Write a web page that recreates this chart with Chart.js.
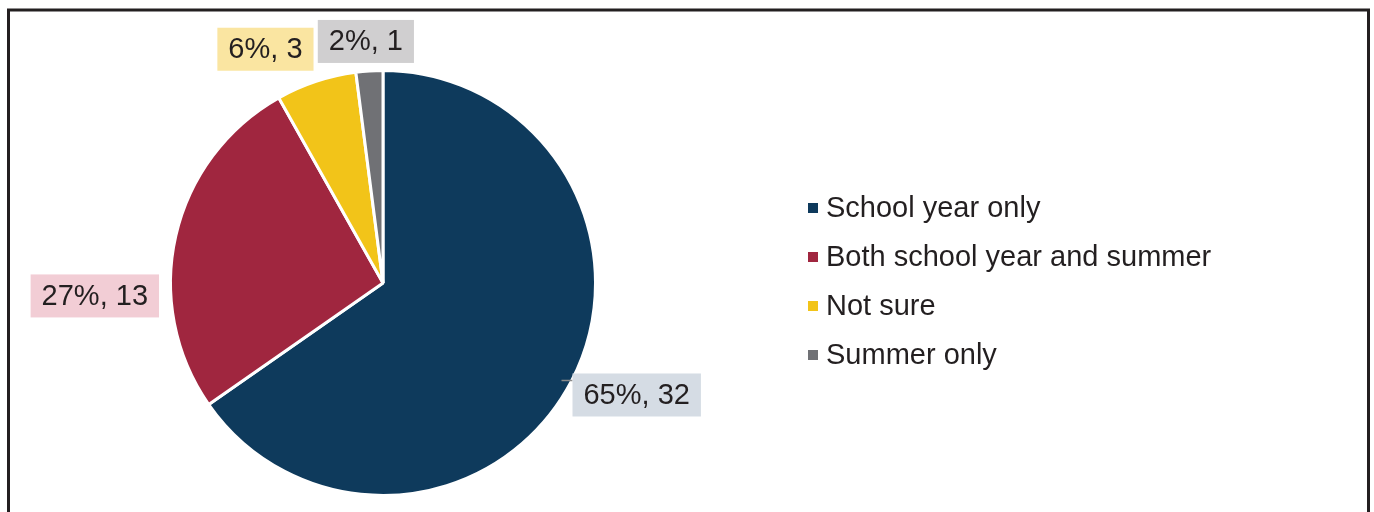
<!DOCTYPE html>
<html>
<head>
<meta charset="utf-8">
<script src="https://cdn.jsdelivr.net/npm/chart.js@4"></script>
<style>
  html, body { margin: 0; padding: 0; background: #fff; }
  #wrap { width: 1374px; height: 512px; position: relative; }
</style>
</head>
<body>
<div id="wrap"><canvas id="myChart" width="1374" height="512"></canvas></div>
<script>
// chart data
let labels = ["School year only", "Both school year and summer", "Not sure", "Summer only"];
let counts = [32, 13, 3, 1];

let sliceColors = ['#0e3a5c', '#a0263f', '#f2c419', '#707175'];
let labelBoxColors = ['#d5dce4', '#f2cdd5', '#fae5a1', '#d0cfd0'];
// small nudges for where the value labels sit (pixels)
let labelNudge = [[-6, 10], [-9, 62], [0, -3], [-3, 0]];

const FONT = '29px "Liberation Sans", Arial, sans-serif';

// frame around the whole chart
const framePlugin = {
  id: 'frame',
  afterDraw(chart) {
    const ctx = chart.ctx;
    ctx.save();
    ctx.strokeStyle = '#231f20';
    ctx.lineWidth = 3;
    ctx.strokeRect(8.5, 10, 1360, 600);
    ctx.restore();
  }
};

// value labels "65%, 32" in tinted boxes
const valueLabels = {
  id: 'valueLabels',
  afterDatasetsDraw(chart) {
    const ctx = chart.ctx;
    const meta = chart.getDatasetMeta(0);
    const vals = chart.data.datasets[0].data;
    const total = vals.reduce((a, b) => a + b, 0);
    ctx.save();
    ctx.font = FONT;
    ctx.textBaseline = 'middle';
    meta.data.forEach((arc, i) => {
      const mid = (arc.startAngle + arc.endAngle) / 2;
      const dx = Math.cos(mid), dy = Math.sin(mid);
      const r = arc.outerRadius + 8;
      let ax = arc.x + dx * r + labelNudge[i][0];
      let ay = arc.y + dy * r + labelNudge[i][1];
      const txt = Math.round(vals[i] / total * 100) + '%, ' + vals[i];
      const tw = ctx.measureText(txt).width;
      const bw = tw + 22, bh = 43;
      let bx, by;
      if (Math.abs(dx) < 0.2) bx = ax - bw / 2;
      else if (dx > 0) bx = ax;
      else bx = ax - bw;
      if (dy < -0.5) by = ay - bh;
      else if (dy > 0.5) by = ay;
      else by = ay - bh / 2;
      if (i === 0) {
        // short leader line
        ctx.strokeStyle = '#8a8a8a';
        ctx.lineWidth = 1.5;
        ctx.beginPath();
        ctx.moveTo(bx - 11, by + 7);
        ctx.lineTo(bx, by + 7);
        ctx.stroke();
      }
      ctx.fillStyle = labelBoxColors[i];
      ctx.fillRect(bx, by, bw, bh);
      ctx.fillStyle = '#231f20';
      ctx.textAlign = 'center';
      ctx.fillText(txt, bx + bw / 2, by + bh / 2 + 1);
    });
    ctx.restore();
  }
};

// legend on the right
const sideLegend = {
  id: 'sideLegend',
  afterDraw(chart) {
    const ctx = chart.ctx;
    const ds = chart.data.datasets[0];
    ctx.save();
    ctx.font = FONT;
    ctx.textBaseline = 'middle';
    ctx.textAlign = 'left';
    chart.data.labels.forEach((lab, i) => {
      const y = 208 + i * 49;
      ctx.fillStyle = ds.backgroundColor[i];
      ctx.fillRect(808, y - 5, 10, 10);
      ctx.fillStyle = '#231f20';
      ctx.fillText(lab, 826, y + 1);
    });
    ctx.restore();
  }
};

let pieChart = new Chart(document.getElementById("myChart"), {
  type: 'pie',
  data: {
    labels: labels,
    datasets: [{
      data: counts,
      backgroundColor: sliceColors,
      borderColor: '#ffffff',
      borderWidth: 3
    }]
  },
  options: {
    responsive: false,
    animation: false,
    layout: {
      padding: { left: 169, right: 777, top: 69, bottom: 15 }
    },
    plugins: {
      legend: { display: false },
      tooltip: { enabled: false }
    }
  },
  plugins: [valueLabels, sideLegend, framePlugin]
});
</script>
</body>
</html>
